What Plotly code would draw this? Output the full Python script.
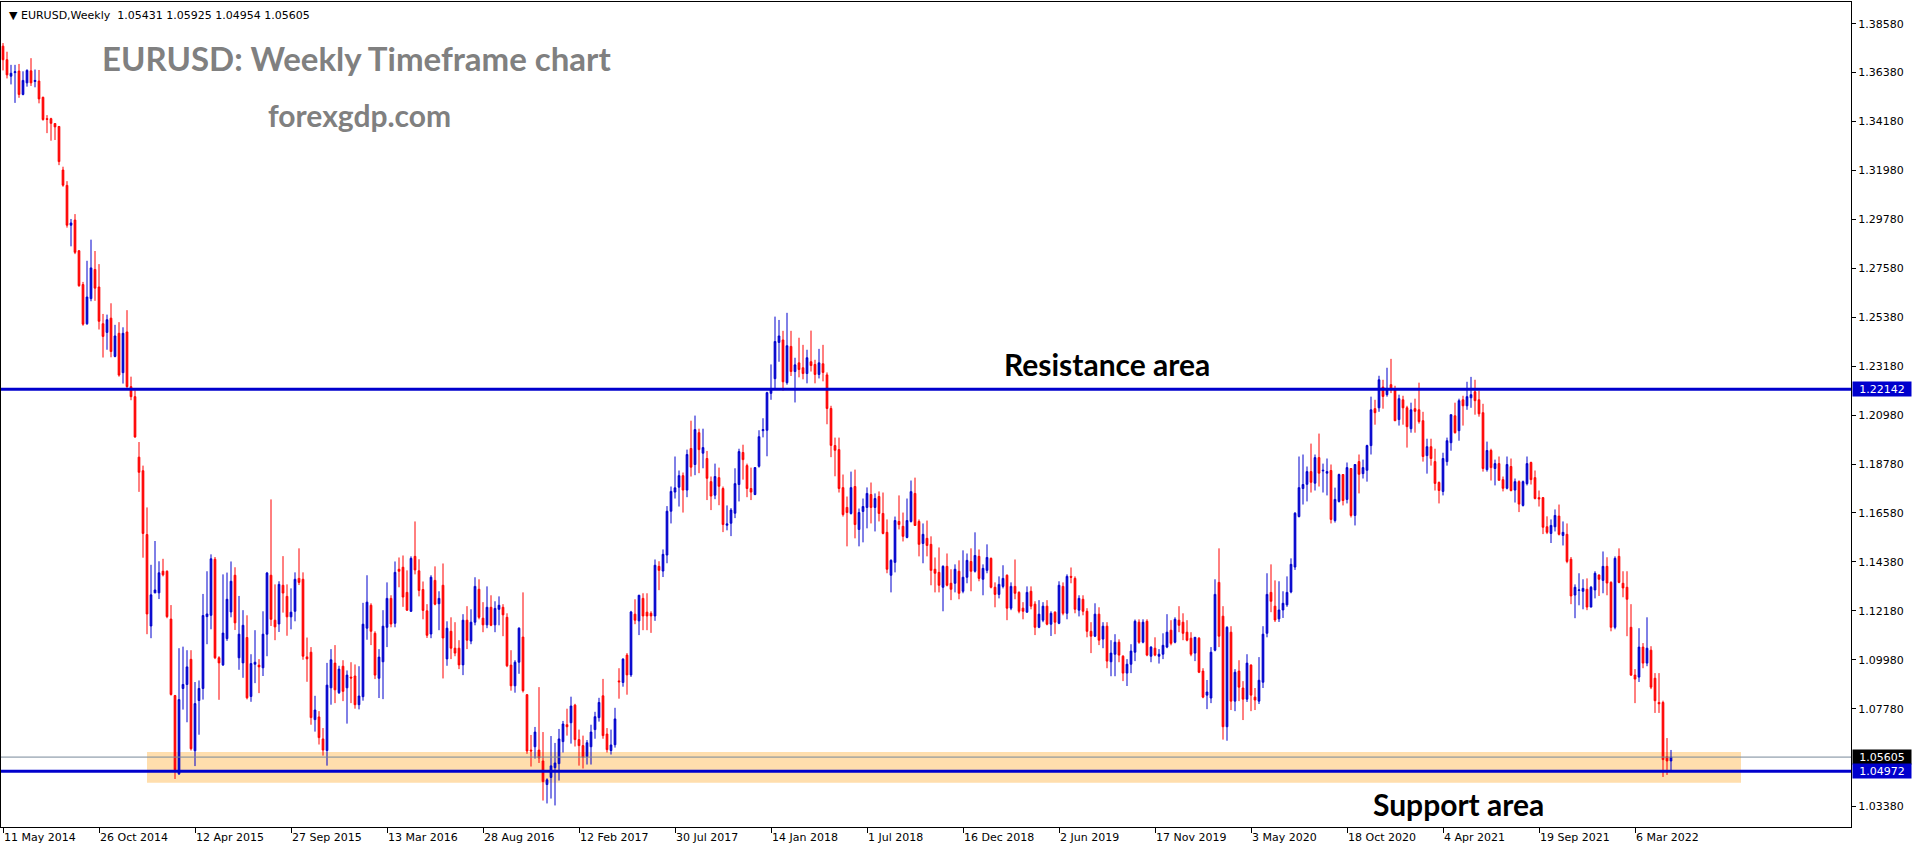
import pandas as pd
import plotly.graph_objects as go

# ---------------- data (EURUSD weekly candles) ----------------
first_week = "2014-05-11"

open_ = [
    1.3757, 1.3696, 1.3622, 1.3638, 1.3645, 1.3540, 1.3592, 1.3646, 1.3598, 1.3600,
    1.3527, 1.3431, 1.3431, 1.3409, 1.3396, 1.3200, 1.3131, 1.2952, 1.2975, 1.2837,
    1.2685, 1.2509, 1.2622, 1.2753, 1.2674, 1.2509, 1.2470, 1.2534, 1.2362, 1.2466,
    1.2289, 1.2472, 1.2226, 1.2181, 1.1909, 1.1848, 1.1561, 1.1150, 1.1299, 1.1299,
    1.1396, 1.1396, 1.1181, 1.0837, 1.0485, 1.0869, 1.0887, 1.1000, 1.0589, 1.0815,
    1.0869, 1.1192, 1.1198, 1.1450, 1.1007, 1.0975, 1.1093, 1.1213, 1.1378, 1.1007,
    1.0984, 1.1098, 1.0833, 1.0978, 1.0974, 1.0962, 1.1113, 1.1378, 1.1176, 1.1159,
    1.1333, 1.1283, 1.1191, 1.1216, 1.1364, 1.1360, 1.1011, 1.1032, 1.0729, 1.0741,
    1.0642, 1.0590, 1.0872, 1.0983, 1.0850, 1.0969, 1.0872, 1.0920, 1.0925, 1.0796,
    1.0832, 1.1140, 1.1243, 1.1117, 1.0915, 1.0989, 1.1144, 1.1274, 1.1162, 1.1405,
    1.1414, 1.1301, 1.1216, 1.1463, 1.1398, 1.1314, 1.1218, 1.1114, 1.1355, 1.1250,
    1.1333, 1.1002, 1.1126, 1.1050, 1.1050, 1.0975, 1.1176, 1.1082, 1.1167, 1.1315,
    1.1185, 1.1155, 1.1234, 1.1155, 1.1225, 1.1234, 1.1189, 1.0974, 1.0881, 1.0987,
    1.1100, 1.0841, 1.0592, 1.0607, 1.0592, 1.0543, 1.0437, 1.0469, 1.0513, 1.0531,
    1.0630, 1.0706, 1.0715, 1.0794, 1.0639, 1.0612, 1.0563, 1.0607, 1.0684, 1.0738,
    1.0836, 1.0664, 1.0590, 1.0616, 1.0903, 1.0896, 1.1019, 1.0930, 1.1203, 1.1173,
    1.1274, 1.1212, 1.1207, 1.1195, 1.1418, 1.1397, 1.1469, 1.1666, 1.1752, 1.1774,
    1.1826, 1.1761, 1.1948, 1.1876, 1.2019, 1.1927, 1.1903, 1.1799, 1.1738, 1.1817,
    1.1768, 1.1603, 1.1612, 1.1657, 1.1786, 1.1930, 1.1871, 1.1768, 1.1741, 1.1868,
    1.2028, 1.2030, 1.2196, 1.2262, 1.2425, 1.2436, 1.2244, 1.2407, 1.2294, 1.2333,
    1.2311, 1.2285, 1.2338, 1.2326, 1.2281, 1.2329, 1.2279, 1.2128, 1.1961, 1.1943,
    1.1772, 1.1683, 1.1656, 1.1777, 1.1584, 1.1665, 1.1683, 1.1741, 1.1683, 1.1732,
    1.1656, 1.1571, 1.1378, 1.1436, 1.1620, 1.1598, 1.1548, 1.1620, 1.1746, 1.1620,
    1.1521, 1.1544, 1.1517, 1.1405, 1.1391, 1.1324, 1.1418, 1.1342, 1.1342, 1.1396,
    1.1306, 1.1369, 1.1440, 1.1396, 1.1463, 1.1360, 1.1400, 1.1454, 1.1324, 1.1292,
    1.1328, 1.1378, 1.1230, 1.1328, 1.1301, 1.1230, 1.1212, 1.1306, 1.1248, 1.1144,
    1.1176, 1.1239, 1.1158, 1.1212, 1.1162, 1.1328, 1.1207, 1.1373, 1.1364, 1.1221,
    1.1270, 1.1216, 1.1126, 1.1104, 1.1203, 1.1091, 1.1149, 1.0989, 1.1023, 1.1077,
    1.1014, 1.0938, 1.0978, 1.1032, 1.1167, 1.1077, 1.1171, 1.1014, 1.1050, 1.1014,
    1.1023, 1.1055, 1.1131, 1.1077, 1.1176, 1.1167, 1.1122, 1.1095, 1.1028, 1.1095,
    1.0947, 1.0839, 1.0826, 1.1041, 1.1346, 1.1194, 1.0697, 1.1122, 1.0812, 1.0947,
    1.0871, 1.0821, 1.0974, 1.0830, 1.0812, 1.0897, 1.1117, 1.1301, 1.1239, 1.1182,
    1.1222, 1.1245, 1.1303, 1.1415, 1.1642, 1.1768, 1.1787, 1.1844, 1.1792, 1.1907,
    1.1847, 1.1837, 1.1849, 1.1624, 1.1710, 1.1831, 1.1719, 1.1858, 1.1647, 1.1889,
    1.1835, 1.1850, 1.1961, 1.2127, 1.2131, 1.2224, 1.2190, 1.2235, 1.2212, 1.2078,
    1.2167, 1.2131, 1.2037, 1.2127, 1.2122, 1.2073, 1.1916, 1.1956, 1.1889, 1.1795,
    1.1755, 1.1889, 1.1974, 1.2095, 1.2028, 1.2167, 1.2140, 1.2176, 1.2203, 1.2167,
    1.2109, 1.1853, 1.1939, 1.1858, 1.1880, 1.1808, 1.1769, 1.1867, 1.1761, 1.1799,
    1.1692, 1.1790, 1.1885, 1.1817, 1.1727, 1.1727, 1.1596, 1.1566, 1.1596, 1.1644,
    1.1557, 1.1562, 1.1450, 1.1289, 1.1310, 1.1306, 1.1315, 1.1235, 1.1312, 1.1379,
    1.1355, 1.1418, 1.1346, 1.1144, 1.1463, 1.1342, 1.1324, 1.1144, 1.0929, 1.0920,
    1.1055, 1.0983, 1.1041, 1.0915, 1.0806, 1.0806, 1.0562, 1.05431,
]

high_ = [
    1.3771, 1.3732, 1.3673, 1.3673, 1.3677, 1.3644, 1.3653, 1.3703, 1.3652, 1.3650,
    1.3530, 1.3447, 1.3435, 1.3410, 1.3398, 1.3215, 1.3150, 1.2980, 1.3002, 1.2840,
    1.2697, 1.2792, 1.2887, 1.2836, 1.2777, 1.2553, 1.2550, 1.2601, 1.2504, 1.2516,
    1.2493, 1.2570, 1.2271, 1.2210, 1.1977, 1.1871, 1.1683, 1.1425, 1.1532, 1.1441,
    1.1452, 1.1400, 1.1244, 1.0840, 1.1050, 1.1057, 1.1041, 1.1041, 1.0898, 1.0905,
    1.1294, 1.1396, 1.1472, 1.1460, 1.1014, 1.1382, 1.1390, 1.1440, 1.1414, 1.1285,
    1.1221, 1.1198, 1.1023, 1.1131, 1.1001, 1.1216, 1.1393, 1.1719, 1.1337, 1.1351,
    1.1464, 1.1337, 1.1319, 1.1391, 1.1499, 1.1391, 1.1098, 1.1055, 1.0836, 1.0767,
    1.0691, 1.0984, 1.1046, 1.1064, 1.0971, 1.0996, 1.0950, 1.0987, 1.0977, 1.0969,
    1.1254, 1.1378, 1.1252, 1.1126, 1.1046, 1.1221, 1.1346, 1.1288, 1.1440, 1.1458,
    1.1467, 1.1400, 1.1463, 1.1620, 1.1450, 1.1350, 1.1248, 1.1378, 1.1418, 1.1306,
    1.1431, 1.1171, 1.1189, 1.1167, 1.1086, 1.1203, 1.1239, 1.1225, 1.1369, 1.1360,
    1.1257, 1.1328, 1.1288, 1.1261, 1.1283, 1.1248, 1.1207, 1.1041, 1.0996, 1.1144,
    1.1301, 1.0844, 1.0660, 1.0696, 1.0875, 1.0673, 1.0465, 1.0655, 1.0624, 1.0687,
    1.0723, 1.0778, 1.0832, 1.0800, 1.0684, 1.0657, 1.0637, 1.0706, 1.0764, 1.0827,
    1.0912, 1.0691, 1.0684, 1.0782, 1.0960, 1.1005, 1.1028, 1.1218, 1.1270, 1.1290,
    1.1297, 1.1297, 1.1216, 1.1449, 1.1441, 1.1494, 1.1689, 1.1777, 1.1912, 1.1849,
    1.1840, 1.1943, 1.2073, 1.2096, 1.2037, 1.2037, 1.1937, 1.1822, 1.1880, 1.1862,
    1.1777, 1.1692, 1.1680, 1.1859, 1.1947, 1.1965, 1.1880, 1.1862, 1.1864, 1.2030,
    1.2084, 1.2203, 1.2326, 1.2541, 1.2526, 1.2477, 1.2558, 1.2477, 1.2356, 1.2446,
    1.2414, 1.2392, 1.2478, 1.2347, 1.2396, 1.2414, 1.2290, 1.2140, 1.1997, 1.1997,
    1.1831, 1.1732, 1.1844, 1.1853, 1.1678, 1.1723, 1.1773, 1.1795, 1.1746, 1.1755,
    1.1750, 1.1629, 1.1450, 1.1642, 1.1737, 1.1660, 1.1723, 1.1804, 1.1817, 1.1629,
    1.1611, 1.1624, 1.1553, 1.1458, 1.1503, 1.1423, 1.1476, 1.1405, 1.1427, 1.1445,
    1.1490, 1.1476, 1.1499, 1.1571, 1.1494, 1.1427, 1.1517, 1.1458, 1.1346, 1.1373,
    1.1423, 1.1382, 1.1346, 1.1449, 1.1306, 1.1257, 1.1328, 1.1328, 1.1261, 1.1266,
    1.1257, 1.1266, 1.1216, 1.1216, 1.1351, 1.1346, 1.1382, 1.1413, 1.1373, 1.1288,
    1.1288, 1.1230, 1.1167, 1.1252, 1.1234, 1.1167, 1.1167, 1.1086, 1.1113, 1.1090,
    1.1019, 1.1001, 1.1068, 1.1179, 1.1180, 1.1180, 1.1180, 1.1059, 1.1099, 1.1046,
    1.1117, 1.1203, 1.1176, 1.1189, 1.1239, 1.1207, 1.1176, 1.1122, 1.1100, 1.1100,
    1.0960, 1.0907, 1.1055, 1.1360, 1.1499, 1.1239, 1.1149, 1.1149, 1.0956, 1.0996,
    1.0902, 1.1023, 1.0978, 1.0871, 1.1010, 1.1149, 1.1387, 1.1427, 1.1355, 1.1351,
    1.1306, 1.1373, 1.1454, 1.1662, 1.1912, 1.1921, 1.1867, 1.1970, 1.1921, 1.2015,
    1.1880, 1.1903, 1.1876, 1.1772, 1.1835, 1.1832, 1.1885, 1.1860, 1.1878, 1.1921,
    1.1898, 1.1965, 1.2181, 1.2167, 1.2275, 1.2257, 1.2311, 1.2351, 1.2230, 1.2190,
    1.2185, 1.2140, 1.2154, 1.2172, 1.2244, 1.2113, 1.1992, 1.1992, 1.1947, 1.1800,
    1.1929, 1.1997, 1.2101, 1.2154, 1.2172, 1.2185, 1.2248, 1.2270, 1.2257, 1.2208,
    1.2149, 1.1979, 1.1947, 1.1898, 1.1912, 1.1822, 1.1912, 1.1903, 1.1813, 1.1805,
    1.1804, 1.1912, 1.1889, 1.1849, 1.1759, 1.1730, 1.1643, 1.1629, 1.1674, 1.1696,
    1.1620, 1.1611, 1.1460, 1.1337, 1.1387, 1.1360, 1.1364, 1.1330, 1.1396, 1.1382,
    1.1485, 1.1459, 1.1351, 1.1463, 1.1499, 1.1396, 1.1396, 1.1248, 1.0956, 1.1140,
    1.1073, 1.1189, 1.1059, 1.0938, 1.0938, 1.0814, 1.0646, 1.05925,
]

low_ = [
    1.3648, 1.3612, 1.3585, 1.3502, 1.3525, 1.3536, 1.3575, 1.3578, 1.3572, 1.3500,
    1.3422, 1.3366, 1.3332, 1.3335, 1.3222, 1.3125, 1.2941, 1.2857, 1.2822, 1.2675,
    1.2500, 1.2504, 1.2610, 1.2612, 1.2483, 1.2357, 1.2392, 1.2358, 1.2358, 1.2271,
    1.2240, 1.2221, 1.2165, 1.1996, 1.1753, 1.1457, 1.1113, 1.1095, 1.1297, 1.1271,
    1.1373, 1.1185, 1.0837, 1.0462, 1.0480, 1.0774, 1.0717, 1.0590, 1.0520, 1.0661,
    1.0819, 1.1068, 1.1135, 1.1001, 1.0818, 1.0970, 1.1083, 1.1189, 1.1132, 1.0953,
    1.0917, 1.0820, 1.0809, 1.0893, 1.0848, 1.0925, 1.1014, 1.1150, 1.1086, 1.1123,
    1.1210, 1.1106, 1.1135, 1.1171, 1.1334, 1.0998, 1.0899, 1.0706, 1.0675, 1.0617,
    1.0567, 1.0522, 1.0796, 1.0803, 1.0844, 1.0812, 1.0711, 1.0803, 1.0778, 1.0775,
    1.0814, 1.1088, 1.1064, 1.0911, 1.0826, 1.0821, 1.1055, 1.1144, 1.1144, 1.1324,
    1.1236, 1.1218, 1.1213, 1.1382, 1.1283, 1.1180, 1.1096, 1.1095, 1.1243, 1.1131,
    1.0914, 1.0971, 1.1001, 1.1014, 1.0956, 1.0929, 1.1046, 1.1068, 1.1153, 1.1180,
    1.1122, 1.1140, 1.1149, 1.1122, 1.1153, 1.1104, 1.0965, 1.0859, 1.0850, 1.0935,
    1.0851, 1.0575, 1.0518, 1.0554, 1.0534, 1.0365, 1.0352, 1.0374, 1.0343, 1.0455,
    1.0581, 1.0657, 1.0621, 1.0608, 1.0522, 1.0509, 1.0527, 1.0527, 1.0643, 1.0720,
    1.0643, 1.0581, 1.0572, 1.0603, 1.0823, 1.0877, 1.0841, 1.0921, 1.1158, 1.1109,
    1.1131, 1.1131, 1.1119, 1.1173, 1.1311, 1.1370, 1.1432, 1.1611, 1.1723, 1.1687,
    1.1660, 1.1729, 1.1822, 1.1828, 1.1837, 1.1859, 1.1716, 1.1671, 1.1720, 1.1693,
    1.1572, 1.1580, 1.1554, 1.1635, 1.1710, 1.1808, 1.1729, 1.1716, 1.1738, 1.1862,
    1.1998, 1.1913, 1.2167, 1.2218, 1.2338, 1.2208, 1.2235, 1.2274, 1.2155, 1.2268,
    1.2259, 1.2241, 1.2294, 1.2241, 1.2263, 1.2250, 1.2057, 1.1909, 1.1823, 1.1750,
    1.1642, 1.1508, 1.1651, 1.1544, 1.1508, 1.1526, 1.1589, 1.1611, 1.1575, 1.1620,
    1.1562, 1.1387, 1.1301, 1.1391, 1.1584, 1.1530, 1.1544, 1.1615, 1.1600, 1.1463,
    1.1432, 1.1463, 1.1333, 1.1301, 1.1301, 1.1216, 1.1328, 1.1266, 1.1301, 1.1270,
    1.1297, 1.1342, 1.1306, 1.1390, 1.1351, 1.1288, 1.1387, 1.1319, 1.1234, 1.1274,
    1.1319, 1.1176, 1.1221, 1.1270, 1.1207, 1.1180, 1.1210, 1.1225, 1.1109, 1.1140,
    1.1167, 1.1153, 1.1105, 1.1113, 1.1158, 1.1198, 1.1180, 1.1342, 1.1207, 1.1193,
    1.1198, 1.1099, 1.1028, 1.1100, 1.1064, 1.1050, 1.0960, 1.0924, 1.0924, 1.0987,
    1.0902, 1.0880, 1.0938, 1.0992, 1.1070, 1.1072, 1.1014, 1.0987, 1.1014, 1.0981,
    1.1001, 1.1050, 1.1063, 1.1072, 1.1122, 1.1086, 1.1081, 1.1014, 1.0992, 1.0938,
    1.0825, 1.0776, 1.0803, 1.1036, 1.1055, 1.0639, 1.0634, 1.0772, 1.0767, 1.0812,
    1.0727, 1.0808, 1.0767, 1.0772, 1.0799, 1.0871, 1.1099, 1.1212, 1.1168, 1.1168,
    1.1186, 1.1236, 1.1297, 1.1402, 1.1638, 1.1696, 1.1710, 1.1750, 1.1759, 1.1777,
    1.1750, 1.1737, 1.1611, 1.1615, 1.1705, 1.1692, 1.1701, 1.1638, 1.1602, 1.1746,
    1.1813, 1.1799, 1.1921, 1.2055, 1.2113, 1.2127, 1.2181, 1.2197, 1.2071, 1.2051,
    1.2055, 1.1952, 1.2019, 1.2019, 1.2060, 1.1889, 1.1835, 1.1871, 1.1759, 1.1701,
    1.1737, 1.1871, 1.1938, 1.2015, 1.1983, 1.2051, 1.2122, 1.2131, 1.2100, 1.2091,
    1.1844, 1.1844, 1.1804, 1.1782, 1.1804, 1.1755, 1.1764, 1.1755, 1.1705, 1.1662,
    1.1687, 1.1782, 1.1786, 1.1719, 1.1687, 1.1563, 1.1563, 1.1523, 1.1575, 1.1557,
    1.1512, 1.1432, 1.1248, 1.1185, 1.1243, 1.1225, 1.1221, 1.1234, 1.1274, 1.1285,
    1.1297, 1.1288, 1.1126, 1.1135, 1.1342, 1.1279, 1.1104, 1.0925, 1.0803, 1.0898,
    1.0960, 1.0969, 1.0866, 1.0759, 1.0759, 1.0471, 1.0480, 1.04954,
]

close_ = [
    1.3696, 1.3628, 1.3635, 1.3642, 1.3540, 1.3603, 1.3648, 1.3592, 1.3603, 1.3520,
    1.3427, 1.3428, 1.3410, 1.3394, 1.3238, 1.3132, 1.2952, 1.2962, 1.2830, 1.2680,
    1.2507, 1.2629, 1.2760, 1.2669, 1.2520, 1.2452, 1.2527, 1.2384, 1.2454, 1.2278,
    1.2466, 1.2226, 1.2181, 1.2000, 1.1841, 1.1566, 1.1204, 1.1290, 1.1312, 1.1389,
    1.1380, 1.1192, 1.0842, 1.0503, 1.0819, 1.0887, 1.0966, 1.0598, 1.0801, 1.0869,
    1.1197, 1.1204, 1.1452, 1.1007, 1.0984, 1.1118, 1.1270, 1.1351, 1.1164, 1.1113,
    1.1153, 1.0827, 1.0981, 1.0987, 1.0966, 1.1113, 1.1388, 1.1180, 1.1146, 1.1337,
    1.1298, 1.1191, 1.1212, 1.1360, 1.1346, 1.1014, 1.1002, 1.0738, 1.0772, 1.0648,
    1.0592, 1.0884, 1.0998, 1.0863, 1.0956, 1.0856, 1.0929, 1.0916, 1.0796, 1.0835,
    1.1158, 1.1257, 1.1126, 1.0929, 1.1010, 1.1149, 1.1274, 1.1159, 1.1391, 1.1396,
    1.1280, 1.1221, 1.1454, 1.1402, 1.1310, 1.1220, 1.1108, 1.1369, 1.1248, 1.1274,
    1.1096, 1.1140, 1.1050, 1.1028, 1.0975, 1.1176, 1.1086, 1.1167, 1.1328, 1.1189,
    1.1155, 1.1234, 1.1153, 1.1229, 1.1243, 1.1200, 1.0971, 1.0881, 1.0987, 1.1140,
    1.0859, 1.0588, 1.0588, 1.0673, 1.0557, 1.0450, 1.0458, 1.0521, 1.0534, 1.0642,
    1.0709, 1.0697, 1.0790, 1.0639, 1.0612, 1.0560, 1.0625, 1.0673, 1.0742, 1.0806,
    1.0657, 1.0594, 1.0615, 1.0732, 1.0899, 1.1001, 1.0930, 1.1213, 1.1176, 1.1288,
    1.1195, 1.1195, 1.1195, 1.1423, 1.1400, 1.1472, 1.1666, 1.1755, 1.1771, 1.1826,
    1.1761, 1.1921, 1.1864, 1.2033, 1.1943, 1.1952, 1.1814, 1.1734, 1.1822, 1.1778,
    1.1606, 1.1609, 1.1671, 1.1790, 1.1934, 1.1898, 1.1768, 1.1752, 1.1862, 1.2001,
    1.2033, 1.2199, 1.2212, 1.2429, 1.2454, 1.2248, 1.2410, 1.2294, 1.2324, 1.2303,
    1.2285, 1.2356, 1.2321, 1.2281, 1.2333, 1.2290, 1.2128, 1.1962, 1.1940, 1.1768,
    1.1651, 1.1660, 1.1772, 1.1606, 1.1660, 1.1687, 1.1746, 1.1683, 1.1723, 1.1656,
    1.1566, 1.1405, 1.1445, 1.1624, 1.1606, 1.1553, 1.1624, 1.1754, 1.1602, 1.1517,
    1.1562, 1.1512, 1.1400, 1.1387, 1.1333, 1.1418, 1.1333, 1.1315, 1.1405, 1.1297,
    1.1369, 1.1445, 1.1396, 1.1467, 1.1364, 1.1409, 1.1458, 1.1324, 1.1292, 1.1337,
    1.1364, 1.1230, 1.1328, 1.1297, 1.1216, 1.1216, 1.1301, 1.1239, 1.1144, 1.1203,
    1.1239, 1.1158, 1.1207, 1.1167, 1.1333, 1.1207, 1.1373, 1.1369, 1.1225, 1.1274,
    1.1216, 1.1126, 1.1104, 1.1203, 1.1086, 1.1149, 1.0992, 1.1028, 1.1077, 1.1019,
    1.0938, 1.0978, 1.1037, 1.1171, 1.1077, 1.1167, 1.1019, 1.1055, 1.1019, 1.1023,
    1.1063, 1.1122, 1.1072, 1.1180, 1.1153, 1.1117, 1.1086, 1.1023, 1.1099, 1.0942,
    1.0830, 1.0853, 1.1032, 1.1292, 1.1104, 1.0697, 1.1144, 1.0812, 1.0942, 1.0875,
    1.0821, 1.0983, 1.0839, 1.0817, 1.0906, 1.1113, 1.1292, 1.1261, 1.1177, 1.1222,
    1.1252, 1.1301, 1.1427, 1.1657, 1.1772, 1.1786, 1.1844, 1.1796, 1.1907, 1.1837,
    1.1850, 1.1844, 1.1629, 1.1719, 1.1831, 1.1714, 1.1862, 1.1647, 1.1876, 1.1832,
    1.1862, 1.1961, 1.2122, 1.2109, 1.2257, 1.2182, 1.2212, 1.2212, 1.2073, 1.2172,
    1.2131, 1.2046, 1.2122, 1.2115, 1.2069, 1.1912, 1.1956, 1.1903, 1.1791, 1.1759,
    1.1903, 1.1983, 1.2100, 1.2019, 1.2163, 1.2140, 1.2181, 1.2190, 1.2163, 1.2104,
    1.1858, 1.1939, 1.1862, 1.1880, 1.1805, 1.1769, 1.1876, 1.1759, 1.1799, 1.1698,
    1.1799, 1.1880, 1.1808, 1.1723, 1.1721, 1.1594, 1.1571, 1.1602, 1.1647, 1.1562,
    1.1571, 1.1440, 1.1285, 1.1324, 1.1312, 1.1319, 1.1235, 1.1324, 1.1387, 1.1360,
    1.1418, 1.1343, 1.1144, 1.1454, 1.1346, 1.1321, 1.1270, 1.0929, 1.0911, 1.1055,
    1.0983, 1.1050, 1.0875, 1.0814, 1.0800, 1.0549, 1.0543, 1.05605,
]

tick_dates = [
    "2014-05-11", "2014-10-26", "2015-04-12", "2015-09-27", "2016-03-13",
    "2016-08-28", "2017-02-12", "2017-07-30", "2018-01-14", "2018-07-01",
    "2018-12-16", "2019-06-02", "2019-11-17", "2020-05-03", "2020-10-18",
    "2021-04-04", "2021-09-19", "2022-03-06",
]

price_ticks = [
    1.38580, 1.36380, 1.34180, 1.31980, 1.29780, 1.27580, 1.25380, 1.23180,
    1.20980, 1.18780, 1.16580, 1.14380, 1.12180, 1.09980, 1.07780, 1.03380,
]

resistance_level = 1.22142
support_level = 1.04972
bid_level = 1.05605
zone_low, zone_high = 1.04452, 1.05833
zone_start, zone_end = "2015-01-18", "2022-09-07 12:00"

# ---------------- styling ----------------
BLUE = "#0000CD"
RED = "#FF0000"
W, H = 1916, 850
ML, MR, MT, MB = 1, 65, 2, 23
PW, PH = W - ML - MR, H - MT - MB

week_start = pd.date_range(first_week, periods=len(close_), freq="7D")
t0 = pd.Timestamp(first_week)
x_range = [t0 - pd.Timedelta(days=3.5), t0 + pd.Timedelta(days=7 * (-0.5 + PW / 4))]
y_range = [1.02461, 1.39556]


def px(xp):
    return (xp - ML) / PW


def py(yp):
    return (H - MB - yp) / PH


fig = go.Figure()
fig.add_trace(go.Candlestick(
    x=week_start, open=open_, high=high_, low=low_, close=close_,
    increasing=dict(line=dict(color=BLUE, width=1), fillcolor=BLUE),
    decreasing=dict(line=dict(color=RED, width=1), fillcolor=RED),
    whiskerwidth=0, showlegend=False, hoverinfo="skip",
))

shapes = [
    dict(type="rect", xref="x", yref="y", x0=zone_start, x1=zone_end,
         y0=zone_low, y1=zone_high, fillcolor="#FFDEAD", line=dict(width=0), layer="below"),
    dict(type="line", xref="paper", yref="y", x0=0, x1=1, y0=bid_level, y1=bid_level,
         line=dict(color="#778899", width=1), layer="above"),
    dict(type="line", xref="paper", yref="y", x0=0, x1=1, y0=resistance_level, y1=resistance_level,
         line=dict(color=BLUE, width=3), layer="above"),
    dict(type="line", xref="paper", yref="y", x0=0, x1=1, y0=support_level, y1=support_level,
         line=dict(color=BLUE, width=3), layer="above"),
]

header = ("\u25BC EURUSD,Weekly\u00a0\u00a0" + f"{open_[-1]:.5f} {high_[-1]:.5f} "
          f"{low_[-1]:.5f} {close_[-1]:.5f}")

annotations = [
    dict(text=header, xref="paper", yref="paper", x=px(7), y=py(16),
         xanchor="left", yanchor="middle", showarrow=False,
         font=dict(family="DejaVu Sans", size=11, color="black")),
    dict(text="<b>EURUSD: Weekly Timeframe chart</b>", xref="paper", yref="paper",
         x=px(100), y=py(58), xanchor="left", yanchor="middle", showarrow=False,
         font=dict(family="Lato", size=33, color="#808080")),
    dict(text="<b>forexgdp.com</b>", xref="paper", yref="paper",
         x=px(266), y=py(115), xanchor="left", yanchor="middle", showarrow=False,
         font=dict(family="Lato", size=30, color="#808080")),
    dict(text="<b>Resistance area</b>", xref="paper", yref="paper",
         x=px(1002), y=py(364), xanchor="left", yanchor="middle", showarrow=False,
         font=dict(family="Lato", size=30, color="black")),
    dict(text="<b>Support area</b>", xref="paper", yref="paper",
         x=px(1371), y=py(804), xanchor="left", yanchor="middle", showarrow=False,
         font=dict(family="Lato", size=30, color="black")),
]
for level, bg in [(resistance_level, BLUE), (bid_level, "#000000"), (support_level, BLUE)]:
    annotations.append(dict(
        text=f"{level:.5f}", xref="paper", yref="y", x=1, y=level,
        xanchor="left", yanchor="middle", xshift=1, showarrow=False,
        bgcolor=bg, borderpad=1, width=56, height=12, align="center",
        font=dict(family="DejaVu Sans", size=11, color="white"),
    ))

fig.update_layout(
    width=W, height=H,
    margin=dict(l=ML, r=MR, t=MT, b=MB, pad=0),
    paper_bgcolor="white", plot_bgcolor="white",
    font=dict(family="DejaVu Sans", size=11, color="black"),
    boxgap=0.4,
    shapes=shapes, annotations=annotations,
    xaxis=dict(
        type="date", range=x_range, rangeslider=dict(visible=False),
        tickvals=tick_dates, tickformat="%-d %b %Y",
        ticks="outside", ticklen=5, tickcolor="black", tickwidth=1,
        ticklabelposition="outside right",
        showgrid=False, zeroline=False,
        showline=True, linecolor="black", linewidth=1, mirror=True,
        tickfont=dict(family="DejaVu Sans", size=11, color="black"),
    ),
    yaxis=dict(
        side="right", range=y_range,
        tickvals=price_ticks, tickformat=".5f",
        ticks="outside", ticklen=4, tickcolor="black", tickwidth=1,
        showgrid=False, zeroline=False,
        showline=True, linecolor="black", linewidth=1, mirror=True,
        tickfont=dict(family="DejaVu Sans", size=11, color="black"),
    ),
)

fig.write_html(
    "out.html",
    config={"displayModeBar": False},
    post_script="document.body.style.margin='0';document.body.style.overflow='hidden';",
)
